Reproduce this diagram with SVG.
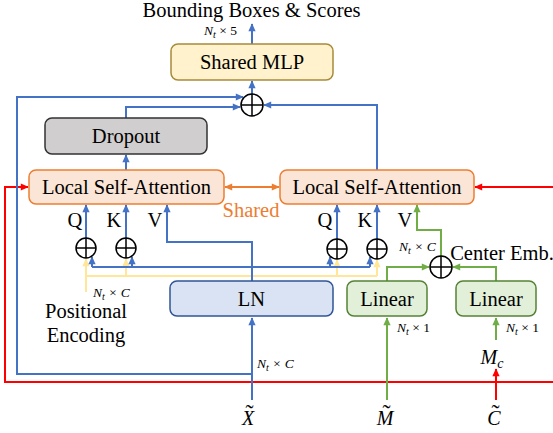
<svg xmlns="http://www.w3.org/2000/svg" width="553" height="433" viewBox="0 0 553 433">
<style>
.t{font-family:"Liberation Serif","Times New Roman",serif;font-size:20.5px;fill:#000;text-anchor:middle}
.m{font-family:"Liberation Serif","Times New Roman",serif;font-style:italic;font-size:13.5px;fill:#000}
.mi{font-family:"Liberation Serif","Times New Roman",serif;font-style:italic;font-size:20px;fill:#000;text-anchor:middle}
.tl{font-family:"Liberation Serif","Times New Roman",serif;font-size:24px;fill:#000;text-anchor:middle}
.b{fill:none;stroke:#4472C4;stroke-width:2}
.r{fill:none;stroke:#FF0000;stroke-width:2}
.g{fill:none;stroke:#70AD47;stroke-width:2}
.y{fill:none;stroke:#FFE699;stroke-width:2}
.o{fill:none;stroke:#ED7D31;stroke-width:2}
.pc{fill:#fff;stroke:#000;stroke-width:1.5}
</style>
<defs>
<marker id="ab" viewBox="0 0 10 10" refX="9" refY="5" markerWidth="9" markerHeight="8" markerUnits="userSpaceOnUse" orient="auto"><path d="M0,0.5 L10,5 L0,9.5 z" fill="#4472C4"/></marker>
<marker id="ar" viewBox="0 0 10 10" refX="9" refY="5" markerWidth="9" markerHeight="8" markerUnits="userSpaceOnUse" orient="auto"><path d="M0,0.5 L10,5 L0,9.5 z" fill="#FF0000"/></marker>
<marker id="ag" viewBox="0 0 10 10" refX="9" refY="5" markerWidth="9" markerHeight="8" markerUnits="userSpaceOnUse" orient="auto"><path d="M0,0.5 L10,5 L0,9.5 z" fill="#70AD47"/></marker>
<marker id="ay" viewBox="0 0 10 10" refX="9" refY="5" markerWidth="9" markerHeight="8" markerUnits="userSpaceOnUse" orient="auto"><path d="M0,0.5 L10,5 L0,9.5 z" fill="#FFE699"/></marker>
<marker id="ao" viewBox="0 0 10 10" refX="9" refY="5" markerWidth="9" markerHeight="8" markerUnits="userSpaceOnUse" orient="auto-start-reverse"><path d="M0,0.5 L10,5 L0,9.5 z" fill="#ED7D31"/></marker>
</defs>
<rect width="553" height="433" fill="#fff"/>

<g id="connectors">
  <path class="r" d="M553,382 H5 V187 H28" marker-end="url(#ar)"/>
  <path class="r" d="M553,187 H475" marker-end="url(#ar)"/>
  <path class="r" d="M496,400 V369" marker-end="url(#ar)"/>
  <path class="y" d="M86,292 V276 H377"/>
  <path class="y" d="M86,276 V259" marker-end="url(#ay)"/>
  <path class="y" d="M126,276 V259" marker-end="url(#ay)"/>
  <path class="y" d="M337,276 V260" marker-end="url(#ay)"/>
  <path class="y" d="M377,276 V260" marker-end="url(#ay)"/>
  <path class="b" d="M252,400 V318" marker-end="url(#ab)"/>
  <path class="b" d="M252,374 H17 V97 H243" marker-end="url(#ab)"/>
  <path class="b" d="M252,281 V242 H167 V205" marker-end="url(#ab)"/>
  <path class="b" d="M92,267 H370"/>
  <path class="b" d="M92,267 V257" marker-end="url(#ab)"/>
  <path class="b" d="M132,267 V257" marker-end="url(#ab)"/>
  <path class="b" d="M330,267 V257" marker-end="url(#ab)"/>
  <path class="b" d="M370,267 V257" marker-end="url(#ab)"/>
  <path class="b" d="M86,238 V205" marker-end="url(#ab)"/>
  <path class="b" d="M126,238 V205" marker-end="url(#ab)"/>
  <path class="b" d="M337,239 V205" marker-end="url(#ab)"/>
  <path class="b" d="M377,239 V205" marker-end="url(#ab)"/>
  <path class="b" d="M126,170 V155" marker-end="url(#ab)"/>
  <path class="b" d="M126,118 V107 H240" marker-end="url(#ab)"/>
  <path class="b" d="M377,170 V105 H264" marker-end="url(#ab)"/>
  <path class="b" d="M252,94 V81" marker-end="url(#ab)"/>
  <path class="b" d="M252,44 V24" marker-end="url(#ab)"/>
  <path class="g" d="M387,400 V318" marker-end="url(#ag)"/>
  <path class="g" d="M496,340 V318" marker-end="url(#ag)"/>
  <path class="g" d="M387,281 V267 H429" marker-end="url(#ag)"/>
  <path class="g" d="M496,281 V267 H453" marker-end="url(#ag)"/>
  <path class="g" d="M441,256 V230 H417 V205" marker-end="url(#ag)"/>
  <path class="o" d="M225,187 H279" marker-start="url(#ao)" marker-end="url(#ao)"/>
</g>

<g id="plus-top"><circle class="pc" cx="252" cy="105" r="11"/><path d="M241,105 H263 M252,94 V116" stroke="#000" stroke-width="1.5"/></g>
<g id="plus-q1"><circle class="pc" cx="86" cy="248" r="10"/><path d="M76,248 H96 M86,238 V258" stroke="#000" stroke-width="1.5"/></g>
<g id="plus-k1"><circle class="pc" cx="126" cy="248" r="10"/><path d="M116,248 H136 M126,238 V258" stroke="#000" stroke-width="1.5"/></g>
<g id="plus-q2"><circle class="pc" cx="337" cy="249" r="10"/><path d="M327,249 H347 M337,239 V259" stroke="#000" stroke-width="1.5"/></g>
<g id="plus-k2"><circle class="pc" cx="377" cy="249" r="10"/><path d="M367,249 H387 M377,239 V259" stroke="#000" stroke-width="1.5"/></g>
<g id="plus-center"><circle class="pc" cx="441" cy="267" r="11"/><path d="M430,267 H452 M441,256 V278" stroke="#000" stroke-width="1.5"/></g>

<g id="mlp"><rect x="171" y="44" width="162" height="36" rx="7" fill="#FFF2CC" stroke="#A88B3A" stroke-width="1.5"/><text class="t" x="252" y="69">Shared MLP</text></g>
<g id="dropout"><rect x="45" y="118" width="162" height="36" rx="7" fill="#D0CECE" stroke="#333" stroke-width="1.5"/><text class="t" x="126" y="143">Dropout</text></g>
<g id="lsa1"><rect x="29" y="170" width="195" height="34" rx="7" fill="#FBE5D6" stroke="#ED7D31" stroke-width="1.5"/><text class="t" x="126.5" y="194">Local Self-Attention</text></g>
<g id="lsa2"><rect x="280" y="170" width="194" height="34" rx="7" fill="#FBE5D6" stroke="#ED7D31" stroke-width="1.5"/><text class="t" x="377" y="194">Local Self-Attention</text></g>
<g id="ln"><rect x="170" y="281" width="163" height="35" rx="7" fill="#DAE3F3" stroke="#2F5597" stroke-width="1.5"/><text class="t" x="251.5" y="306">LN</text></g>
<g id="linear1"><rect x="347" y="281" width="80" height="35" rx="7" fill="#E2F0D9" stroke="#548235" stroke-width="1.5"/><text class="t" x="387" y="306">Linear</text></g>
<g id="linear2"><rect x="456" y="281" width="80" height="35" rx="7" fill="#E2F0D9" stroke="#548235" stroke-width="1.5"/><text class="t" x="496" y="306">Linear</text></g>

<g id="labels">
  <text class="t" x="251.5" y="17">Bounding Boxes &amp; Scores</text>
  <text class="m" x="204" y="35">N<tspan font-size="10" dy="3">t</tspan><tspan dy="-3" font-style="normal"> × 5</tspan></text>
  <text class="t" x="251" y="217" style="fill:#ED7D31">Shared</text>
  <text class="t" x="75" y="227">Q</text>
  <text class="t" x="114" y="227">K</text>
  <text class="t" x="155" y="227">V</text>
  <text class="t" x="325" y="227">Q</text>
  <text class="t" x="365" y="227">K</text>
  <text class="t" x="405" y="227">V</text>
  <text class="m" x="399" y="251">N<tspan font-size="10" dy="3">t</tspan><tspan dy="-3"> × C</tspan></text>
  <text class="t" x="502" y="260">Center Emb.</text>
  <text class="m" x="93" y="297">N<tspan font-size="10" dy="3">t</tspan><tspan dy="-3"> × C</tspan></text>
  <text class="t" x="86" y="318">Positional</text>
  <text class="t" x="86" y="342">Encoding</text>
  <text class="m" x="397" y="332">N<tspan font-size="10" dy="3">t</tspan><tspan dy="-3" font-style="normal"> × 1</tspan></text>
  <text class="m" x="506" y="332">N<tspan font-size="10" dy="3">t</tspan><tspan dy="-3" font-style="normal">  × 1</tspan></text>
  <text class="m" x="257" y="368">N<tspan font-size="10" dy="3">t</tspan><tspan dy="-3"> × C</tspan></text>
  <text class="mi" x="492" y="364">M<tspan font-size="14" dy="4">c</tspan></text>
  <text class="mi" x="248" y="425">X</text>
  <text class="tl" x="249.5" y="421">˜</text>
  <text class="mi" x="385" y="425">M</text>
  <text class="tl" x="386.5" y="421">˜</text>
  <text class="mi" x="494" y="425">C</text>
  <text class="tl" x="495.5" y="421">˜</text>
</g>
</svg>
